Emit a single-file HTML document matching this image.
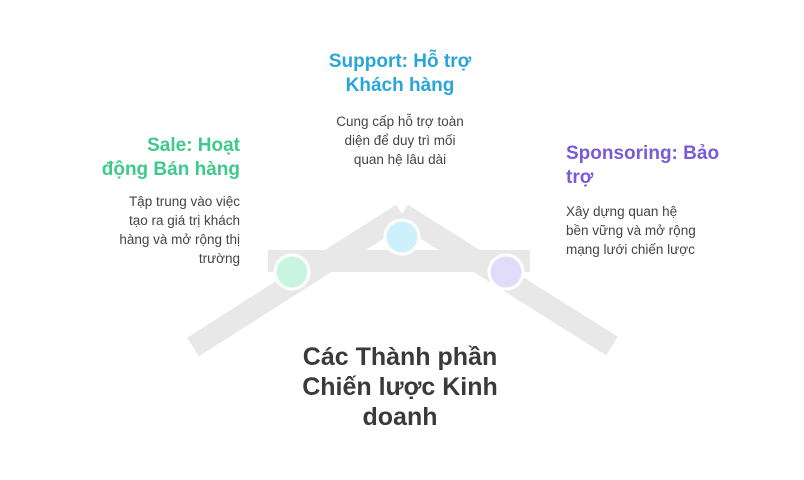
<!DOCTYPE html>
<html><head><meta charset="utf-8"><style>
body{margin:0;width:804px;height:480px;background:#fff;position:relative;overflow:hidden;font-family:"Liberation Sans","DejaVu Sans",sans-serif}
.t{position:absolute;font-weight:bold;font-size:19px;line-height:24px}
.d{position:absolute;font-size:13.5px;line-height:19px;color:#444}
</style></head><body>
<svg width="804" height="480" style="position:absolute;left:0;top:0">
<g stroke="#e8e8e8" stroke-width="22" stroke-linecap="butt">
<line x1="193" y1="347" x2="402" y2="214"/>
<line x1="402" y1="214" x2="612" y2="346"/>
</g>
<rect x="268" y="250" width="262" height="22" fill="#e8e8e8"/>
<circle cx="292" cy="272" r="17" fill="#c8f5e0" stroke="#fff" stroke-width="3"/>
<circle cx="402" cy="237" r="17" fill="#cdf0fb" stroke="#fff" stroke-width="3"/>
<circle cx="506" cy="272" r="17" fill="#e2dcfb" stroke="#fff" stroke-width="3"/>
</svg>
<div class="t" style="left:60px;top:134px;width:180px;text-align:right;color:#3fc98b">Sale: Hoạt<br>động Bán hàng</div>
<div class="d" style="left:60px;top:192px;width:180px;text-align:right">Tập trung vào việc<br>tạo ra giá trị khách<br>hàng và mở rộng thị<br>trường</div>
<div class="t" style="left:300px;top:50px;width:200px;text-align:center;color:#29a5d9">Support: Hỗ trợ<br>Khách hàng</div>
<div class="d" style="left:300px;top:112px;width:200px;text-align:center">Cung cấp hỗ trợ toàn<br>diện để duy trì mối<br>quan hệ lâu dài</div>
<div class="t" style="left:566px;top:142px;width:200px;color:#7a5ad6">Sponsoring: Bảo<br>trợ</div>
<div class="d" style="left:566px;top:202px;width:200px">Xây dựng quan hệ<br>bền vững và mở rộng<br>mạng lưới chiến lược</div>
<div style="position:absolute;left:270px;top:342px;width:260px;text-align:center;font-weight:bold;font-size:25px;line-height:30px;color:#3a3a3a">Các Thành phần<br>Chiến lược Kinh<br>doanh</div>
</body></html>
